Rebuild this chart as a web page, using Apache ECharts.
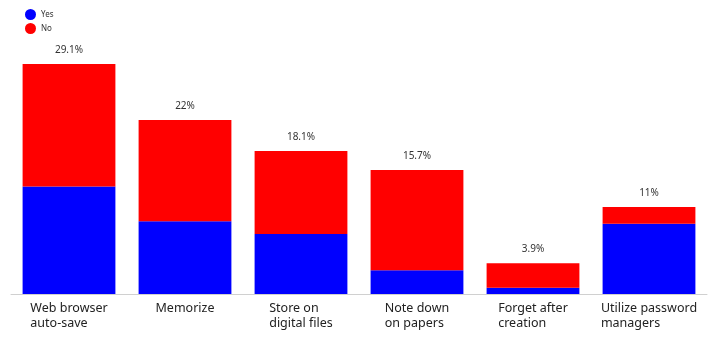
<!DOCTYPE html>
<html>
<head>
<meta charset="utf-8">
<script src="https://cdn.jsdelivr.net/npm/echarts@6/dist/echarts.min.js"></script>
<style>
  html, body { margin: 0; padding: 0; background: #fff; }
  #chart { width: 723px; height: 341px; }
</style>
</head>
<body>
<div id="chart"></div>
<script>
const categories = [
  'Web browser\nauto-save',
  'Memorize',
  'Store on\ndigital files',
  'Note down\non papers',
  'Forget after\ncreation',
  'Utilize password\nmanagers'
];
const yesValues = [13.6, 9.2, 7.6, 3.0, 0.8, 8.9];
const noValues = [15.5, 12.8, 10.5, 12.7, 3.1, 2.1];
const totalLabels = ['29.1%', '22%', '18.1%', '15.7%', '3.9%', '11%'];

const chart = echarts.init(document.getElementById('chart'));

chart.setOption({
  animation: false,
  textStyle: { fontFamily: 'Noto Sans' },
  legend: {
    orient: 'vertical',
    left: 20,
    top: 4,
    icon: 'circle',
    itemWidth: 11,
    itemHeight: 11,
    itemGap: 3,
    textStyle: { fontSize: 8, color: '#333' },
    data: ['Yes', 'No']
  },
  grid: { left: 11, right: 16, top: 64, bottom: 47 },
  xAxis: {
    type: 'category',
    data: categories,
    axisTick: { show: false },
    axisLine: { lineStyle: { color: '#d0d0d0', width: 1 } },
    axisLabel: {
      interval: 0,
      margin: 7,
      color: '#222',
      fontSize: 12.5,
      lineHeight: 15,
      formatter: (v) => v.split('\n').map((s) => '{a|' + s + '}').join('\n'),
      rich: { a: { align: 'left', fontSize: 12.5, lineHeight: 15, color: '#222' } }
    }
  },
  yAxis: {
    type: 'value',
    min: 0,
    max: 29.1,
    show: false,
    splitLine: { show: false }
  },
  series: [
    {
      name: 'Yes',
      type: 'bar',
      stack: 'total',
      barCategoryGap: '20%',
      itemStyle: { color: '#0000ff' },
      data: yesValues
    },
    {
      name: 'No',
      type: 'bar',
      stack: 'total',
      barCategoryGap: '20%',
      itemStyle: { color: '#ff0000' },
      label: {
        show: true,
        position: 'top',
        distance: 9,
        fontSize: 10,
        color: '#333',
        formatter: (p) => totalLabels[p.dataIndex]
      },
      data: noValues
    }
  ]
});
</script>
</body>
</html>
